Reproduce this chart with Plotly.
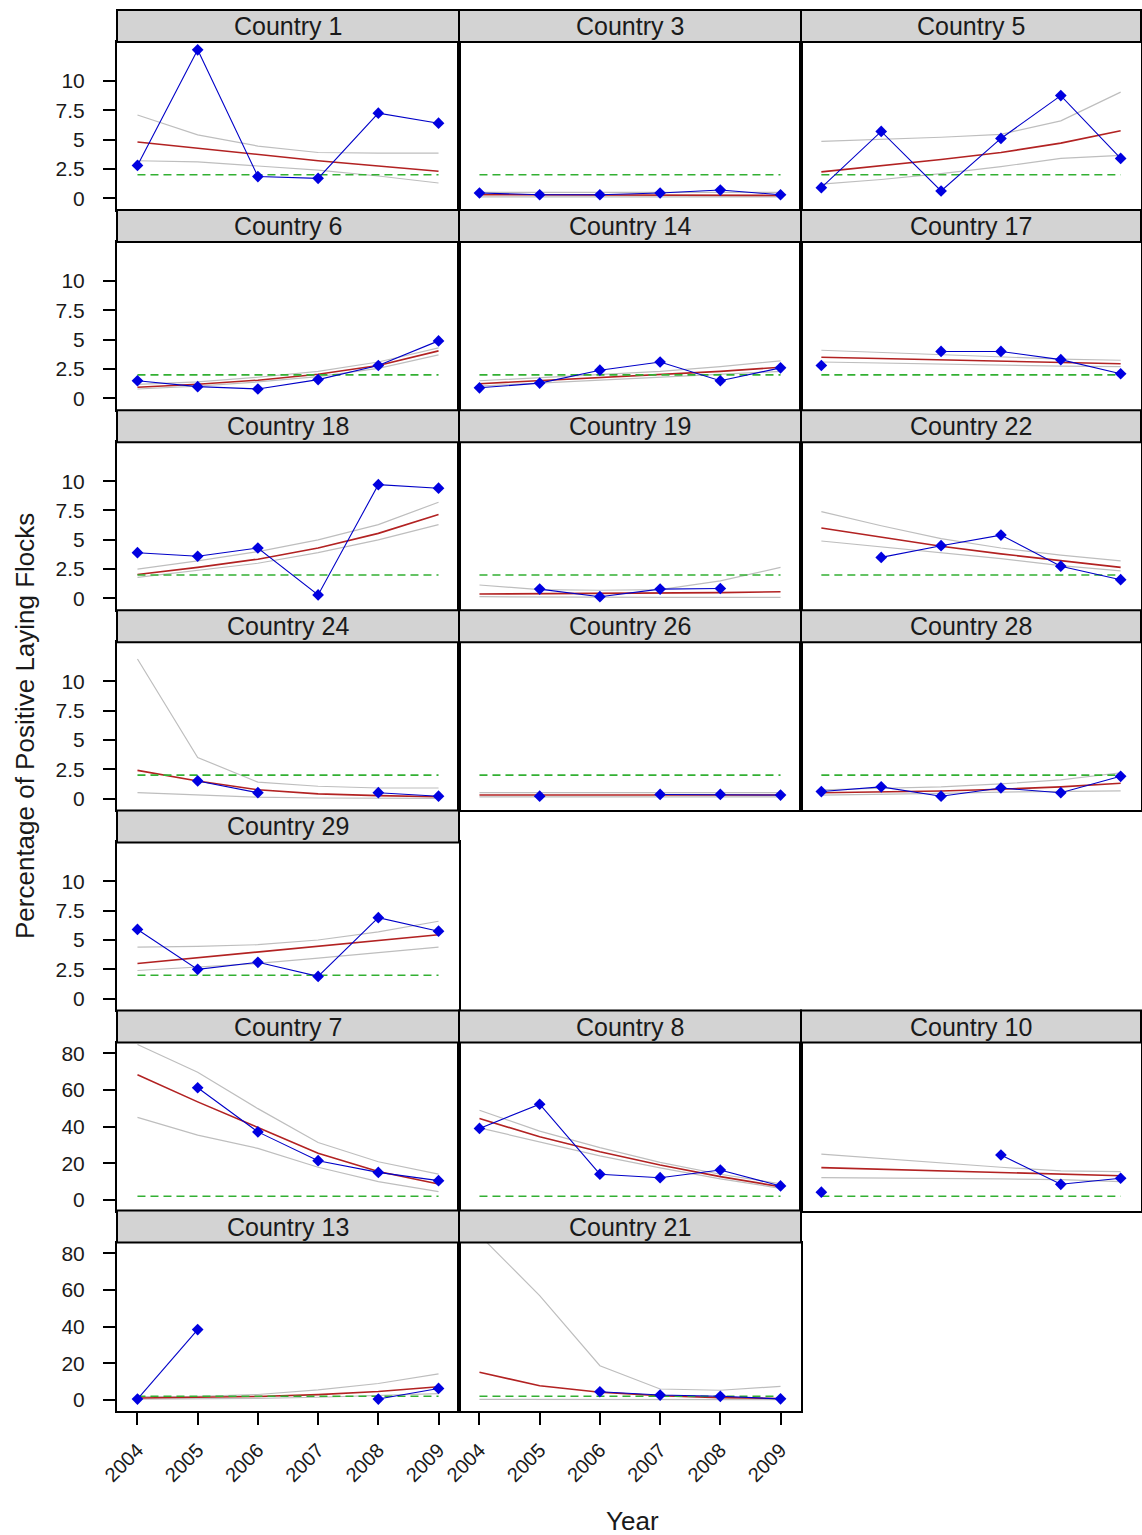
import plotly.graph_objects as go

# ---------------- data ----------------
years = [2004, 2005, 2006, 2007, 2008, 2009]
target = 2

panel_rows = [
    ["Country 1", "Country 3", "Country 5"],
    ["Country 6", "Country 14", "Country 17"],
    ["Country 18", "Country 19", "Country 22"],
    ["Country 24", "Country 26", "Country 28"],
    ["Country 29"],
    ["Country 7", "Country 8", "Country 10"],
    ["Country 13", "Country 21"],
]
large_scale_rows = [5, 6]

observed = {
    "Country 1": [2.8, 12.65, 1.85, 1.7, 7.25, 6.4],
    "Country 3": [0.45, 0.3, 0.3, 0.45, 0.7, 0.3],
    "Country 5": [0.9, 5.7, 0.62, 5.1, 8.75, 3.4],
    "Country 6": [1.5, 1.0, 0.8, 1.6, 2.8, 4.9],
    "Country 14": [0.9, 1.3, 2.4, 3.1, 1.5, 2.6],
    "Country 17": [2.8, None, 4.0, 4.0, 3.3, 2.1],
    "Country 18": [3.9, 3.6, 4.3, 0.3, 9.7, 9.4],
    "Country 19": [None, 0.8, 0.15, 0.8, 0.85, None],
    "Country 22": [None, 3.5, 4.5, 5.4, 2.75, 1.6],
    "Country 24": [None, 1.5, 0.5, None, 0.5, 0.2],
    "Country 26": [None, 0.2, None, 0.35, 0.35, 0.3],
    "Country 28": [0.6, 1.0, 0.2, 0.9, 0.5, 1.9],
    "Country 29": [5.9, 2.5, 3.1, 1.9, 6.9, 5.75],
    "Country 7": [None, 61.2, 37.1, 21.4, 15.0, 10.5],
    "Country 8": [39, 52.2, 14, 12.1, 16.3, 7.6],
    "Country 10": [4.2, None, None, 24.5, 8.5, 11.8],
    "Country 13": [0.5, 38.4, None, None, 0.5, 6.3],
    "Country 21": [None, None, 4.5, 2.7, 2.0, 0.6],
}

fitted = {
    "Country 1": [4.8, 4.25, 3.75, 3.2, 2.75, 2.3],
    "Country 3": [0.3, 0.28, 0.27, 0.26, 0.25, 0.24],
    "Country 5": [2.25, 2.75, 3.3, 3.9, 4.7, 5.75],
    "Country 6": [0.95, 1.2, 1.55, 2.05, 2.8, 4.05],
    "Country 14": [1.25, 1.5, 1.75, 2.0, 2.3, 2.65],
    "Country 17": [3.5, 3.4, 3.3, 3.2, 3.05, 2.95],
    "Country 18": [2.05, 2.65, 3.35, 4.3, 5.55, 7.15],
    "Country 19": [0.38, 0.4, 0.42, 0.45, 0.5, 0.57],
    "Country 22": [6.0, 5.2, 4.45, 3.8, 3.2, 2.65],
    "Country 24": [2.4, 1.5, 0.75, 0.4, 0.25, 0.15],
    "Country 26": [0.3, 0.3, 0.3, 0.3, 0.3, 0.3],
    "Country 28": [0.5, 0.55, 0.65, 0.8, 1.0, 1.3],
    "Country 29": [3.0, 3.5, 3.95, 4.45, 4.95, 5.45],
    "Country 7": [68.3, 53.5, 39.5, 25.5, 15.5, 8.7],
    "Country 8": [44.4, 34.4, 26.3, 19.0, 12.7, 7.2],
    "Country 10": [17.6, 16.7, 15.8, 15.0, 14.1, 13.2],
    "Country 13": [1.1, 1.3, 1.9, 2.9, 4.6, 7.2],
    "Country 21": [15.1, 7.8, 4.2, 2.3, 1.3, 0.8],
}

ci_upper = {
    "Country 1": [7.1, 5.4, 4.45, 3.9, 3.85, 3.85],
    "Country 3": [0.5, 0.5, 0.45, 0.45, 0.5, 0.5],
    "Country 5": [4.85, 5.0, 5.2, 5.45, 6.6, 9.05],
    "Country 6": [1.2, 1.4, 1.8, 2.3, 3.1, 4.3],
    "Country 14": [1.5, 1.75, 2.0, 2.3, 2.7, 3.2],
    "Country 17": [4.1, 3.9, 3.7, 3.5, 3.35, 3.25],
    "Country 18": [2.5, 3.2, 4.0, 5.0, 6.3, 8.2],
    "Country 19": [1.15, 0.75, 0.7, 0.75, 1.5, 2.65],
    "Country 22": [7.4, 6.2, 5.1, 4.3, 3.7, 3.2],
    "Country 24": [11.9, 3.5, 1.4, 1.05, 0.9, 0.9],
    "Country 26": [0.5, 0.5, 0.45, 0.45, 0.45, 0.5],
    "Country 28": [0.75, 0.85, 1.0, 1.25, 1.6, 2.2],
    "Country 29": [4.4, 4.45, 4.6, 5.0, 5.7, 6.6],
    "Country 7": [84.8, 69.7, 49.8, 31.3, 20.8, 14.1],
    "Country 8": [48.9, 37.5, 28.5, 20.5, 14.0, 8.8],
    "Country 10": [25, 22.5, 20, 17.8, 15.8, 15.4],
    "Country 13": [1.8, 2.0, 3.0, 5.5, 9.0, 14.2],
    "Country 21": [90, 57, 18.7, 6.0, 5.3, 7.4],
}

ci_lower = {
    "Country 1": [3.2, 3.1, 2.75, 2.4, 1.9, 1.3],
    "Country 3": [0.12, 0.12, 0.12, 0.12, 0.12, 0.12],
    "Country 5": [1.2, 1.6, 2.1, 2.7, 3.4, 3.65],
    "Country 6": [0.8, 1.05, 1.4, 1.85, 2.55, 3.7],
    "Country 14": [1.05, 1.3, 1.55, 1.8, 2.05, 2.3],
    "Country 17": [3.1, 3.0, 2.95, 2.85, 2.75, 2.7],
    "Country 18": [1.8, 2.4, 3.0, 3.9, 5.0, 6.3],
    "Country 19": [0.15, 0.12, 0.1, 0.1, 0.1, 0.1],
    "Country 22": [4.9, 4.4, 3.9, 3.4, 2.8, 2.35],
    "Country 24": [0.5, 0.3, 0.12, 0.05, 0.03, 0.02],
    "Country 26": [0.15, 0.15, 0.15, 0.15, 0.15, 0.15],
    "Country 28": [0.3, 0.35, 0.45, 0.55, 0.62, 0.65],
    "Country 29": [2.4, 2.7, 3.0, 3.45, 3.9, 4.4],
    "Country 7": [45, 35.3, 28.1, 17.8, 10.0, 4.5],
    "Country 8": [39.3, 31.5, 24.0, 17.5, 11.5, 6.3],
    "Country 10": [12.1, 12.0, 11.8, 11.5, 11.0, 10.0],
    "Country 13": [0.5, 0.6, 0.9, 1.5, 2.3, 3.5],
    "Country 21": [0.3, 0.3, 0.5, 0.5, 0.4, 0.2],
}

small_ticks = [0, 2.5, 5, 7.5, 10]
small_labels = ["0", "2.5", "5", "7.5", "10"]
large_ticks = [0, 20, 40, 60, 80]
large_labels = ["0", "20", "40", "60", "80"]

# ---------------- layout geometry ----------------
W, H = 1142, 1535
col_edges = [(117, 459), (459, 801), (801, 1141)]
ROW_PITCH = 200.1
STRIP_H = 32
PANEL_H = 168
FONT = "Liberation Sans, Arial, sans-serif"
TXT = "#1a1a1a"

BLUE = "#0000C8"
RED = "#B22222"
GREY = "#BEBEBE"
GREEN = "#33B033"

fig = go.Figure()
layout_axes = {}
shapes = []
annotations = []

k = 0
n_rows = len(panel_rows)
for r, row in enumerate(panel_rows):
    strip_top = 10 + ROW_PITCH * r
    strip_bot = strip_top + STRIP_H
    panel_bot = strip_bot + PANEL_H
    large = r in large_scale_rows
    for c, name in enumerate(row):
        k += 1
        xa = "x" if k == 1 else f"x{k}"
        ya = "y" if k == 1 else f"y{k}"
        x0, x1 = col_edges[c]
        xdom = [x0 / W, x1 / W]
        ydom = [1 - panel_bot / H, 1 - strip_bot / H]

        fig.add_trace(go.Scatter(x=years, y=ci_upper[name], mode="lines",
                                 line=dict(color=GREY, width=1.2),
                                 xaxis=xa, yaxis=ya, showlegend=False, hoverinfo="skip"))
        fig.add_trace(go.Scatter(x=years, y=ci_lower[name], mode="lines",
                                 line=dict(color=GREY, width=1.2),
                                 xaxis=xa, yaxis=ya, showlegend=False, hoverinfo="skip"))
        fig.add_trace(go.Scatter(x=years, y=fitted[name], mode="lines",
                                 line=dict(color=RED, width=1.6),
                                 xaxis=xa, yaxis=ya, showlegend=False))
        fig.add_trace(go.Scatter(x=[years[0], years[-1]], y=[target, target], mode="lines",
                                 line=dict(color=GREEN, width=1.6, dash="8px,5px"),
                                 xaxis=xa, yaxis=ya, showlegend=False, hoverinfo="skip"))
        fig.add_trace(go.Scatter(x=years, y=observed[name], mode="lines+markers",
                                 line=dict(color=BLUE, width=1.1),
                                 marker=dict(symbol="diamond", size=9, color="#0000E0"),
                                 connectgaps=False,
                                 xaxis=xa, yaxis=ya, showlegend=False))

        bottom = (r == n_rows - 1)
        xkey = "xaxis" if k == 1 else f"xaxis{k}"
        ykey = "yaxis" if k == 1 else f"yaxis{k}"
        layout_axes[xkey] = dict(
            domain=xdom, anchor=ya, range=[2003.66, 2009.34], automargin=False,
            showline=True, mirror=True, linecolor="black", linewidth=2,
            showgrid=False, zeroline=False,
            tickmode="array", tickvals=years, ticktext=[str(y) for y in years],
            ticks="outside" if bottom else "", ticklen=12, tickwidth=1.5, tickcolor="black",
            showticklabels=bottom, tickangle=-45, ticklabelstandoff=6,
            tickfont=dict(family=FONT, size=20, color=TXT),
        )
        left = (c == 0)
        layout_axes[ykey] = dict(
            domain=ydom, anchor=xa, automargin=False,
            range=[-5.8, 85.9] if large else [-1.0, 13.32],
            showline=True, mirror=True, linecolor="black", linewidth=2,
            showgrid=False, zeroline=False,
            tickmode="array",
            tickvals=large_ticks if large else small_ticks,
            ticktext=large_labels if large else small_labels,
            ticks="outside" if left else "", ticklen=12, tickwidth=1.5, tickcolor="black",
            showticklabels=left, ticklabelstandoff=14,
            tickfont=dict(family=FONT, size=21, color=TXT),
        )

        shapes.append(dict(type="rect", xref="paper", yref="paper",
                           x0=x0 / W, x1=x1 / W,
                           y0=1 - strip_bot / H, y1=1 - strip_top / H,
                           fillcolor="#D3D3D3", line=dict(color="black", width=2),
                           layer="above"))
        annotations.append(dict(text=name, xref="paper", yref="paper",
                                x=(x0 + x1) / 2 / W, y=1 - (strip_top + STRIP_H / 2) / H,
                                xanchor="center", yanchor="middle", showarrow=False,
                                font=dict(family=FONT, size=25, color=TXT)))

annotations.append(dict(text="Percentage of Positive Laying Flocks", xref="paper", yref="paper",
                        x=25 / W, y=1 - 726 / H, textangle=-90, showarrow=False,
                        xanchor="center", yanchor="middle",
                        font=dict(family=FONT, size=26, color=TXT)))
annotations.append(dict(text="Year", xref="paper", yref="paper",
                        x=632 / W, y=1 - 1521 / H, showarrow=False,
                        xanchor="center", yanchor="middle",
                        font=dict(family=FONT, size=26, color=TXT)))

fig.update_layout(
    template="none",
    width=W, height=H,
    margin=dict(l=0, r=0, t=0, b=0, pad=0, autoexpand=False),
    paper_bgcolor="white", plot_bgcolor="white",
    shapes=shapes, annotations=annotations,
    showlegend=False,
    **layout_axes,
)

fig.write_html("out.html")
